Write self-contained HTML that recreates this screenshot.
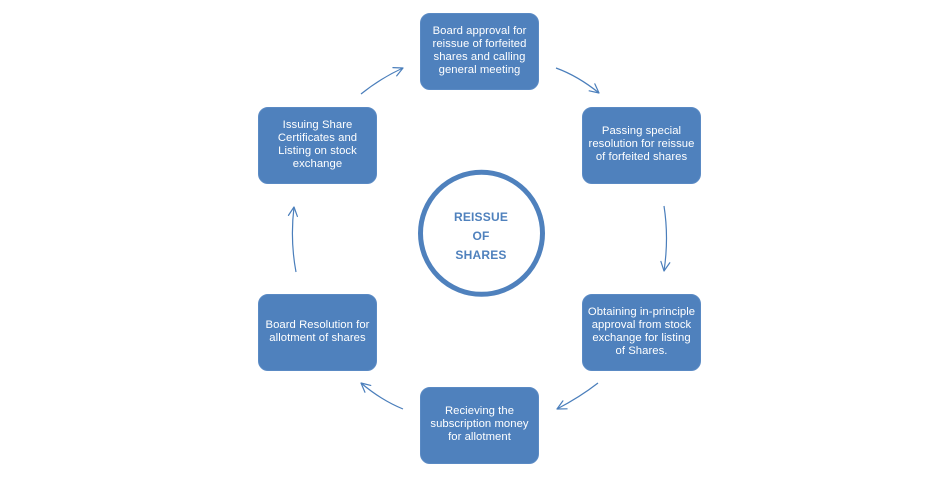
<!DOCTYPE html>
<html>
<head>
<meta charset="utf-8">
<style>
  html, body { margin: 0; padding: 0; background: #ffffff; }
  body { width: 934px; height: 479px; position: relative; overflow: hidden; }
  .box {
    position: absolute;
    width: 119px; height: 77px;
    background: #4f81bd;
    border-radius: 10px;
    box-sizing: border-box;
    border: 1px solid #5a8ac4;
    display: flex; align-items: center; justify-content: center;
    text-align: center;
    color: #ffffff;
    font-family: "Liberation Sans", sans-serif;
    font-size: 11.3px;
    line-height: 13px;
    letter-spacing: 0.05px;
    padding-bottom: 2px;
    white-space: nowrap;
  }
  .circ-text {
    position: absolute;
    left: 431px; width: 100px; top: 208px;
    text-align: center;
    font-family: "Liberation Sans", sans-serif;
    font-weight: bold;
    font-size: 12px;
    line-height: 19px;
    letter-spacing: 0.2px;
    color: #4f81bd;
  }
  svg { position: absolute; left: 0; top: 0; }
</style>
</head>
<body>
<svg width="934" height="479" viewBox="0 0 934 479">
  <defs>
    <marker id="ah" markerUnits="userSpaceOnUse" viewBox="-11 -6 13 12" refX="0" refY="0" markerWidth="13" markerHeight="12" orient="auto" overflow="visible">
      <path d="M-9,-4.5 L0,0 L-9,4.5" fill="none" stroke="#4a7ebb" stroke-width="1.2" stroke-linecap="round" stroke-linejoin="round"/>
    </marker>
  </defs>
  <g fill="none" stroke="#4a7ebb" stroke-width="1.2" marker-end="url(#ah)">
    <path d="M361,94 Q381,78 403,68"/>
    <path d="M556,68 Q578,76 599,93"/>
    <path d="M664,206 Q669,238 664,271"/>
    <path d="M598,383 Q580,397 557,409"/>
    <path d="M403,409 Q381,400 361,383"/>
    <path d="M296,272 Q290,240 294,207"/>
  </g>
  <circle cx="481.5" cy="233.3" r="61" fill="#ffffff" stroke="#4f81bd" stroke-width="5"/>
</svg>

<div class="circ-text">REISSUE<br>OF<br>SHARES</div>

<div class="box" style="left:420px; top:13px;">Board approval for<br>reissue of forfeited<br>shares and calling<br>general meeting</div>
<div class="box" style="left:258px; top:107px;">Issuing Share<br>Certificates and<br>Listing on stock<br>exchange</div>
<div class="box" style="left:582px; top:107px;">Passing special<br>resolution for reissue<br>of forfeited shares</div>
<div class="box" style="left:258px; top:294px;">Board Resolution for<br>allotment of shares</div>
<div class="box" style="left:582px; top:294px;">Obtaining in-principle<br>approval from stock<br>exchange for listing<br>of Shares.</div>
<div class="box" style="left:420px; top:387px;">Recieving the<br>subscription money<br>for allotment</div>
</body>
</html>
